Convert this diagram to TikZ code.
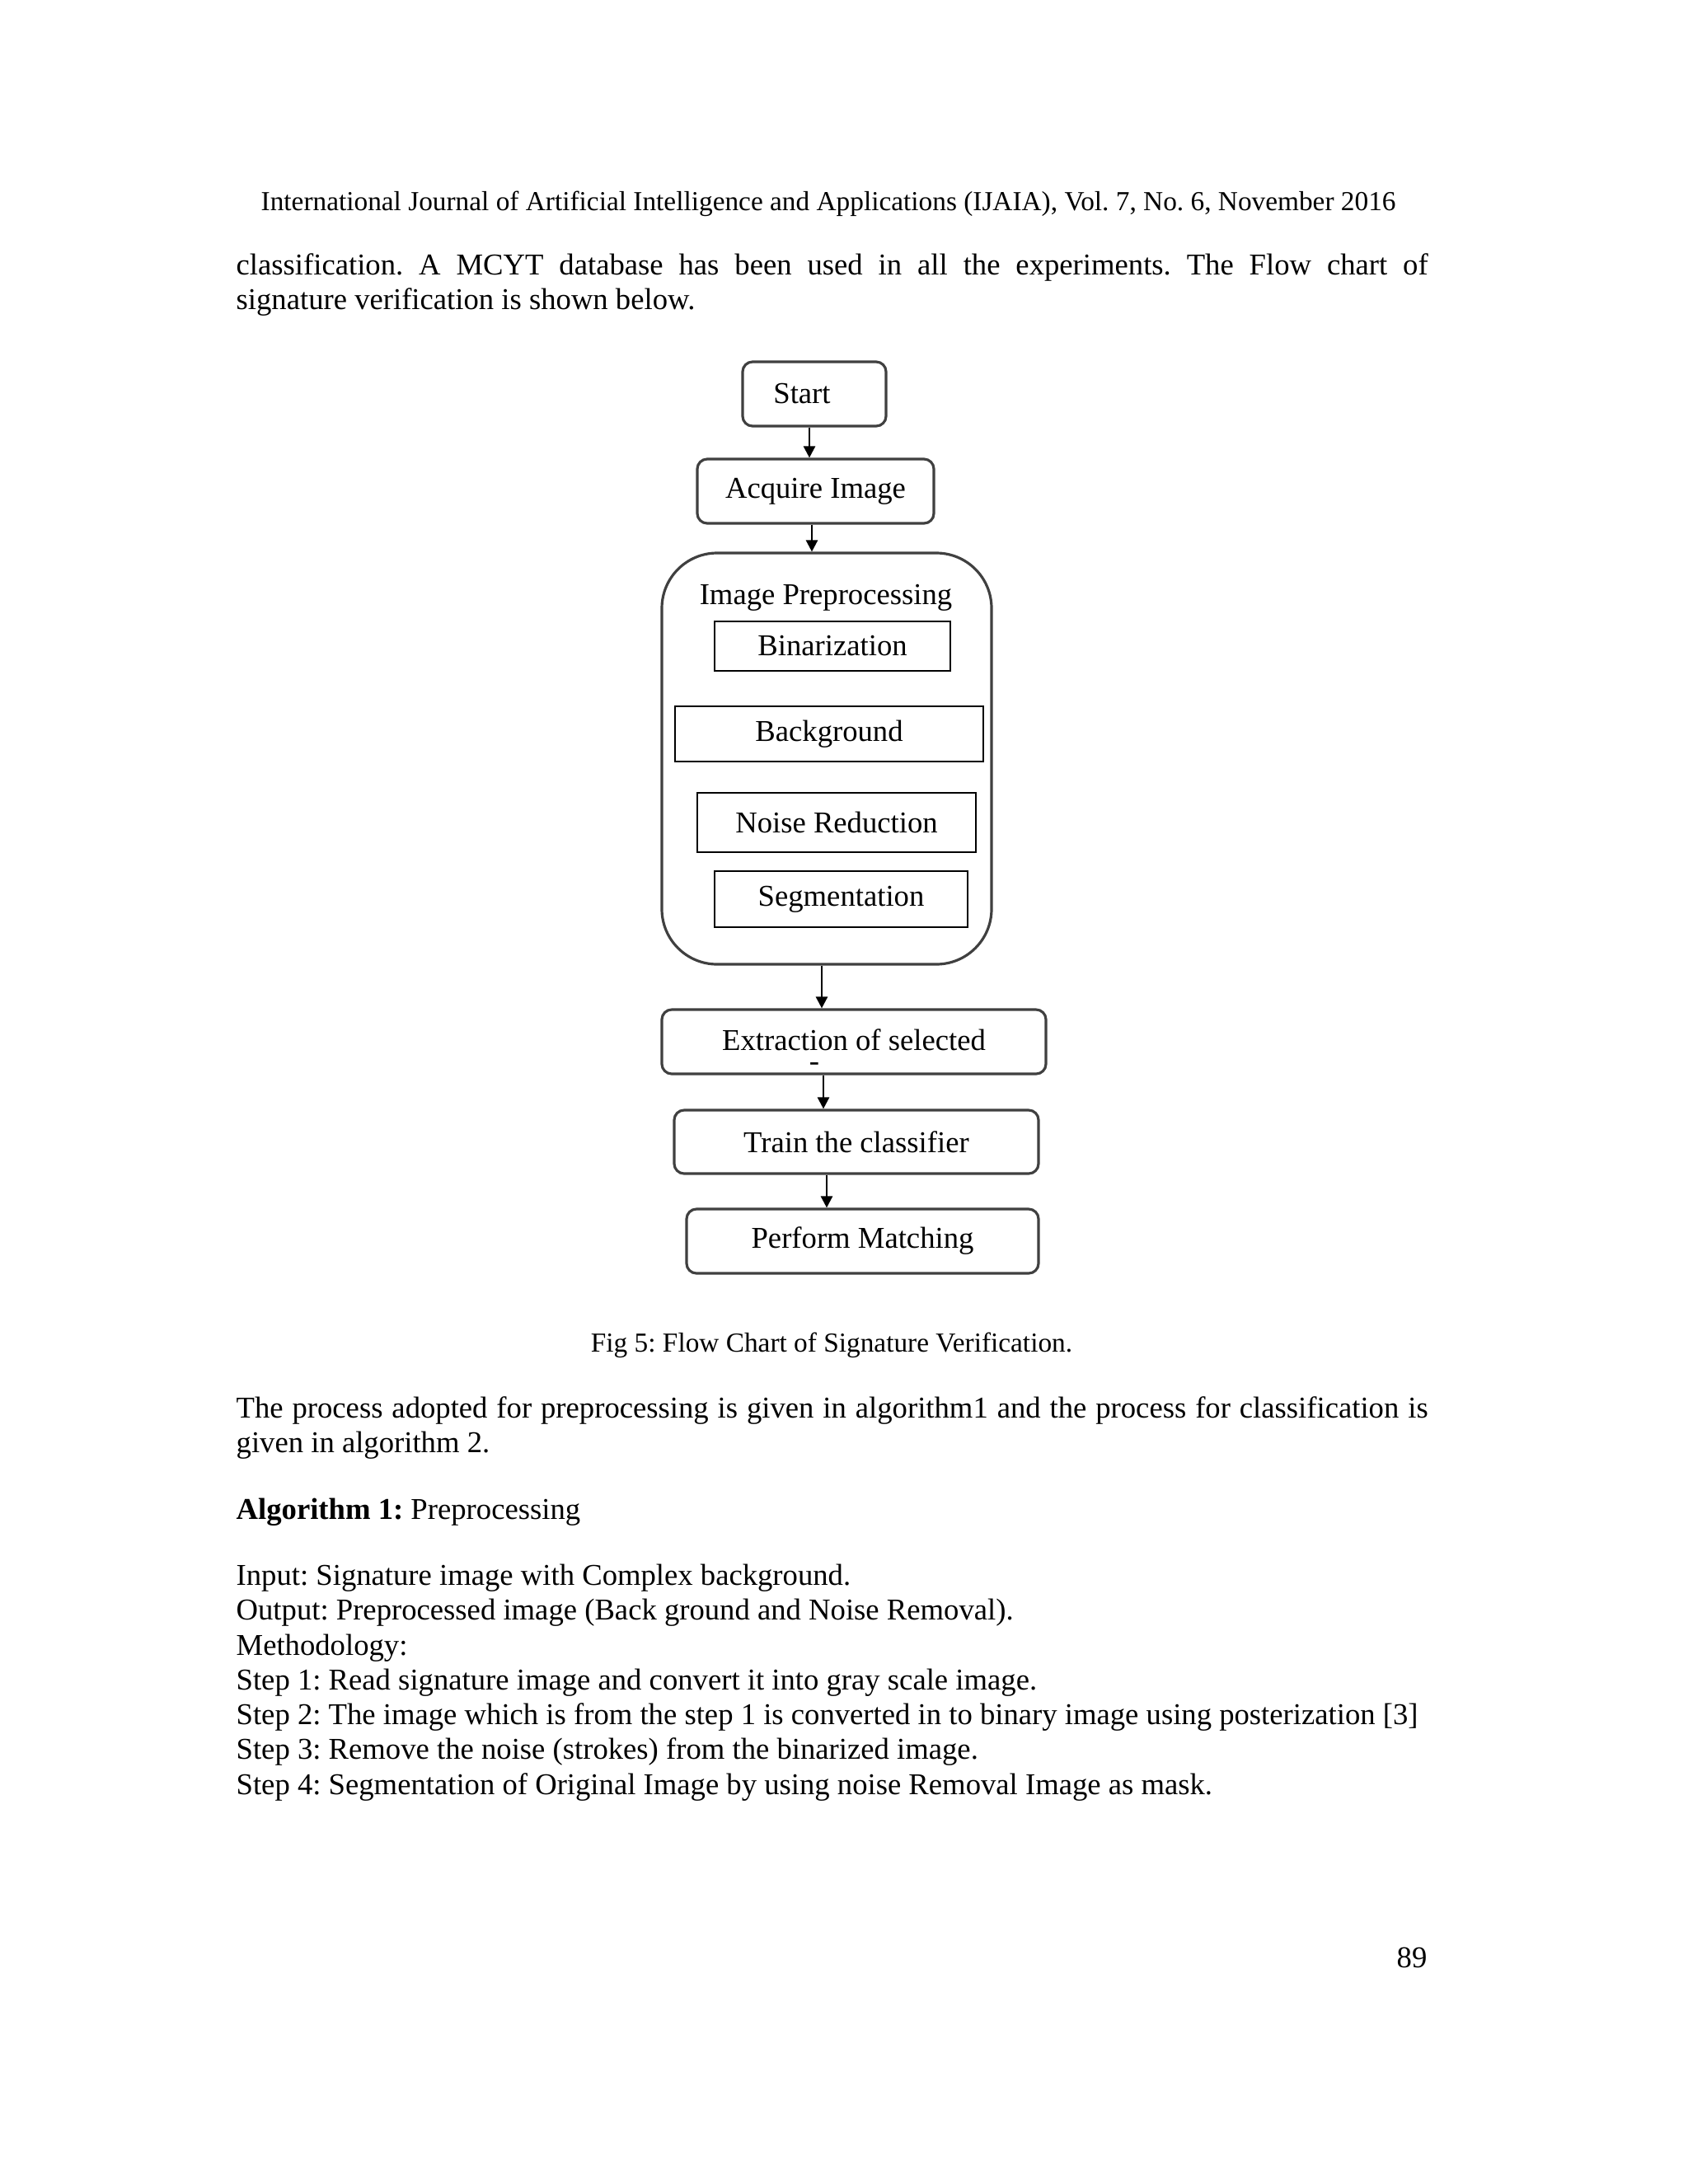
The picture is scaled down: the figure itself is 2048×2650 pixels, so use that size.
\documentclass[tikz,border=0pt]{standalone}
\usepackage{fontspec}
\setmainfont{Liberation Serif}
\usetikzlibrary{arrows.meta}
\frenchspacing
\newdimen\pix \pix=0.010542cm
\newcommand\bodyfnt{\fontsize{11}{12.6}\selectfont}
\newcommand\smallfnt{\fontsize{10}{12}\selectfont}
\newcommand\boxfnt{\fontsize{11}{13}\selectfont}
\tikzset{
  roundbox/.style={draw=black!75, line width=0.95pt, rounded corners=12*\pix, inner sep=0pt, font=\boxfnt},
  stepbox/.style={draw=black, line width=0.8pt, inner sep=0pt, font=\boxfnt},
  flowarr/.style={-{Triangle[length=4.2pt,width=4.2pt]}, line width=0.75pt},
  txtline/.style={anchor=base west, inner sep=0pt, font=\bodyfnt}
}
\begin{document}
\begin{tikzpicture}[x=0.010542cm, y=-0.010542cm]
    \fill[white] (0,0) rectangle (2048,2650);
    \useasboundingbox (0,0) rectangle (2048,2650);

    %testata
    \node[anchor=base west, inner sep=0pt, font=\smallfnt] (hdr) at (316,255)
        {International Journal of Artificial Intelligence and Applications (IJAIA), Vol. 7, No. 6, November 2016};
    \node[txtline] (intro1) at (286,333) {\makebox[1446\pix][s]{classification. A MCYT database has been used in all the experiments. The Flow chart of}};
    \node[txtline] (intro2) at (286,375) {signature verification is shown below.};

    %diagramma
    \node[roundbox, minimum width=174*\pix, minimum height=78*\pix] (start) at (988,478) {Start\hspace*{30\pix}};
    \node[roundbox, minimum width=287*\pix, minimum height=78*\pix] (acq) at (989.5,596) {Acquire Image};
    \node[roundbox, rounded corners=67*\pix, minimum width=400*\pix, minimum height=499*\pix] (prep) at (1003,920.5) {};
    \node[inner sep=0pt, font=\boxfnt] (preptitle) at (1002,725) {Image Preprocessing};
    \node[stepbox, minimum width=286*\pix, minimum height=60*\pix] (bin) at (1010,784) {Binarization};
    \node[stepbox, minimum width=374*\pix, minimum height=67*\pix] (bg) at (1006,890.5) {Background};
    \node[stepbox, minimum width=338*\pix, minimum height=72*\pix] (noise) at (1015,998) {Noise Reduction};
    \node[stepbox, minimum width=307*\pix, minimum height=68*\pix] (seg) at (1020.5,1091) {Segmentation};
    \node[roundbox, minimum width=466*\pix, minimum height=78*\pix] (extr) at (1036,1264) {\raisebox{4\pix}{Extraction of selected}};
    \node[inner sep=0pt, font=\boxfnt] (dash) at (988,1294) {-};
    \node[roundbox, minimum width=442*\pix, minimum height=77*\pix] (train) at (1039,1385.5) {Train the classifier};
    \node[roundbox, minimum width=427*\pix, minimum height=78*\pix] (perf) at (1046.5,1506) {Perform Matching};

    %frecce
    \foreach \a/\b/\x in {start/acq/982, acq/prep/985, prep/extr/997, extr/train/999, train/perf/1003}{
        \coordinate (ax) at (\x,0);
        \draw[flowarr] (\a.south -| ax) -- (\b.north -| ax);
    }

    %didascalia
    \node[anchor=base, inner sep=0pt, font=\smallfnt] (cap) at (1009,1640) {Fig 5: Flow Chart of Signature Verification.};

    %testo
    \node[txtline] (para1) at (286,1720) {\makebox[1446\pix][s]{The process adopted for preprocessing is given in algorithm1 and the process for classification is}};
    \node[txtline] (para2) at (286,1762) {given in algorithm 2.};
    \node[txtline] (algo) at (286,1843) {\textbf{Algorithm 1:} Preprocessing};
    \node[txtline] (inp) at (286,1923) {Input: Signature image with Complex background.};
    \node[txtline] (outp) at (286,1965) {Output: Preprocessed image (Back ground and Noise Removal).};
    \node[txtline] (meth) at (286,2008) {Methodology:};
    \node[txtline] (step1) at (286,2050) {Step 1: Read signature image and convert it into gray scale image.};
    \node[txtline] (step2) at (286,2092) {Step 2: The image which is from the step 1 is converted in to binary image using posterization [3]};
    \node[txtline] (step3) at (286,2134) {Step 3: Remove the noise (strokes) from the binarized image.};
    \node[txtline] (step4) at (286,2177) {Step 4: Segmentation of Original Image by using noise Removal Image as mask.};

    %pagina
    \node[anchor=base east, inner sep=0pt, font=\bodyfnt] (pgno) at (1732,2387) {89};
\end{tikzpicture}
\end{document}
